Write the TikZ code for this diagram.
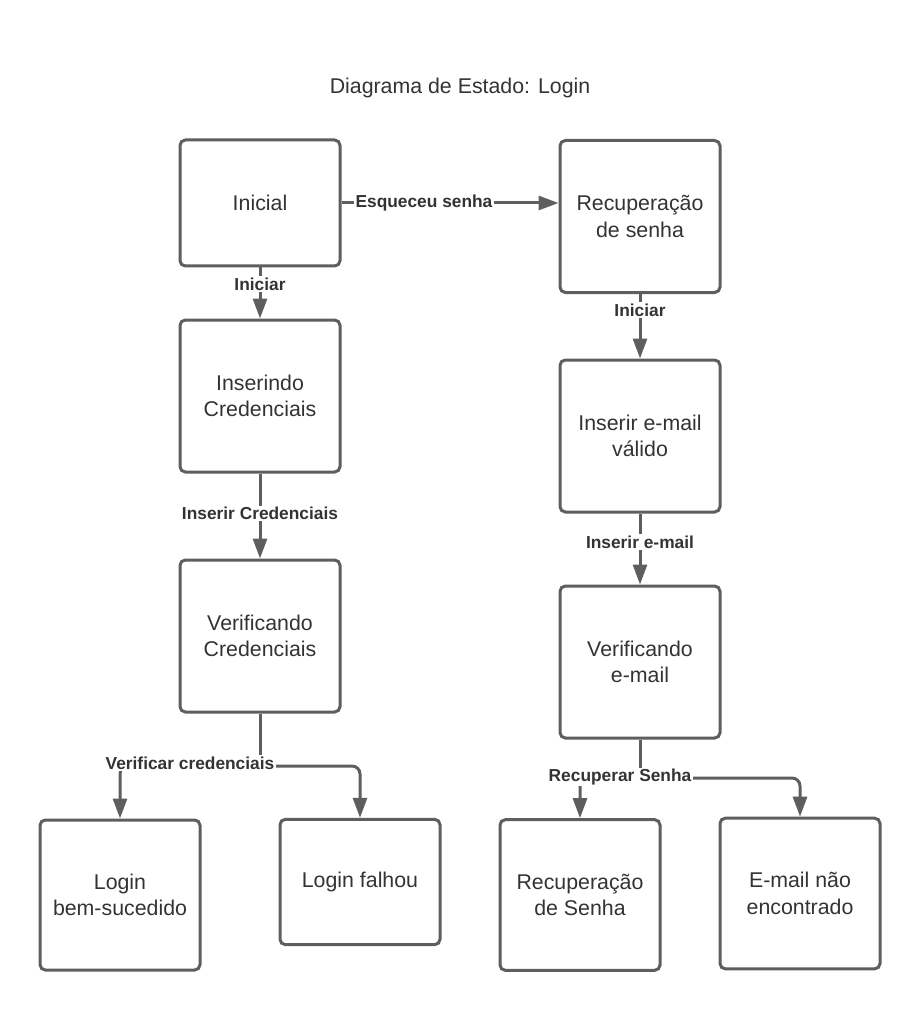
\documentclass[tikz,border=0pt]{standalone}
\usepackage{fontspec}
\setmainfont{Liberation Sans}
\usetikzlibrary{arrows.meta}

\definecolor{linegray}{HTML}{5E5E5E}
\definecolor{textgray}{HTML}{333333}

\tikzset{
  state/.style={draw=linegray, line width=2.25pt, rounded corners=4pt, fill=white,
    minimum width=120pt, align=center, text=textgray,
    font=\fontsize{16}{20}\selectfont},
  trans/.style={draw=linegray, line width=2.25pt,
    -{Triangle[length=15pt,width=10.5pt]}},
  translabel/.style={fill=white, inner sep=1pt, text=textgray,
    font=\bfseries\fontsize{13}{15}\selectfont}
}

\begin{document}
\begin{tikzpicture}[x=0.75pt, y=-0.75pt]

  \useasboundingbox (0,0) rectangle (920,1012);

  % Title
  \node[text=textgray, font=\fontsize{16}{20}\selectfont] (title) at (460,88) {Diagrama de Estado: Login};

  % States (left column)
  \node[state, minimum height=94.5pt] (inicial) at (260,203) {Inicial};
  \node[state, minimum height=114pt] (inserindo) at (260,396) {Inserindo\\Credenciais};
  \node[state, minimum height=114pt] (verificando) at (260,636) {Verificando\\Credenciais};

  % States (right column)
  \node[state, minimum height=114pt] (recsenha) at (640,216.5) {Recuperação\\de senha};
  \node[state, minimum height=114pt] (inseriremail) at (640,436) {Inserir e-mail\\válido};
  \node[state, minimum height=114pt] (verifemail) at (640,662) {Verificando\\e-mail};

  % Final states (bottom row)
  \node[state, minimum height=112.5pt] (loginok) at (120,895) {Login\\bem-sucedido};
  \node[state, minimum height=94pt] (loginfail) at (360,882) {Login falhou};
  \node[state, minimum height=113pt] (recsenhaok) at (580,895) {Recuperação\\de Senha};
  \node[state, minimum height=113pt] (emailnf) at (800,893.5) {E-mail não\\encontrado};

  % Split points
  \coordinate (vsplit) at (260,766);
  \coordinate (esplit) at (640,778);

  % Transitions
  \draw[trans] (inicial.east) -- (inicial.east -| recsenha.west)
    node[translabel, pos=0.38] (lblesq) {Esqueceu senha};
  \draw[trans] (inicial) -- (inserindo)
    node[translabel, pos=0.32] (lblini) {Iniciar};
  \draw[trans] (inserindo) -- (verificando)
    node[translabel, pos=0.47] (lblins) {Inserir Credenciais};
  \draw[trans] (recsenha) -- (inseriremail)
    node[translabel, pos=0.25] (lblini2) {Iniciar};
  \draw[trans] (inseriremail) -- (verifemail)
    node[translabel, pos=0.4] (lblinsemail) {Inserir e-mail};

  % Branches
  \draw[draw=linegray, line width=2.25pt] (verificando.south) -- (vsplit);
  \draw[trans, rounded corners=6pt] (vsplit) -| (loginok.north);
  \draw[trans, rounded corners=6pt] (vsplit) -| (loginfail.north);
  \node[translabel] (lblverif) at (190,763) {Verificar credenciais};

  \draw[draw=linegray, line width=2.25pt] (verifemail.south) -- (esplit);
  \draw[trans, rounded corners=6pt] (esplit) -| (recsenhaok.north);
  \draw[trans, rounded corners=6pt] (esplit) -| (emailnf.north);
  \node[translabel] (lblrec) at (620,777) {Recuperar Senha};

\end{tikzpicture}
\end{document}
